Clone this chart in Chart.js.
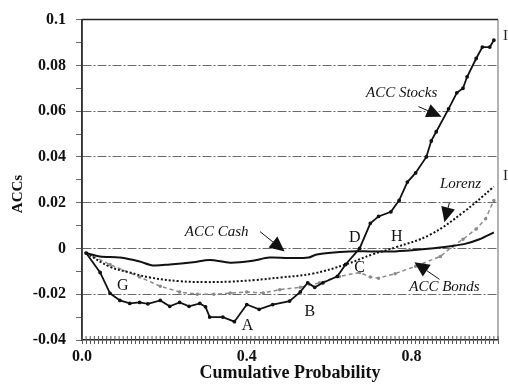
<!DOCTYPE html>
<html>
<head>
<meta charset="utf-8">
<script src="https://cdn.jsdelivr.net/npm/chart.js@4.4.0/dist/chart.umd.min.js"></script>
<style>
  html, body { margin: 0; padding: 0; background: #fff; }
  #wrap { width: 508px; height: 384px; }
</style>
</head>
<body>
<div id="wrap"><canvas id="accChart" width="508" height="384"></canvas></div>
<script>
// values (x = cumulative probability, y = ACC)
const stocksX = [0.01, 0.044, 0.068, 0.092, 0.116, 0.14, 0.16, 0.19, 0.213, 0.237, 0.26, 0.286, 0.30, 0.31, 0.342, 0.37, 0.40, 0.43, 0.463, 0.504, 0.53, 0.548, 0.565, 0.585, 0.62, 0.64, 0.674, 0.70, 0.72, 0.75, 0.77, 0.79, 0.81, 0.836, 0.848, 0.86, 0.89, 0.91, 0.925, 0.935, 0.957, 0.972, 0.99, 1.0];
const stocksY = [-0.002, -0.0105, -0.0196, -0.0227, -0.024, -0.0236, -0.0242, -0.0227, -0.0253, -0.0236, -0.0253, -0.024, -0.0255, -0.030, -0.030, -0.032, -0.0245, -0.0266, -0.0245, -0.023, -0.019, -0.015, -0.017, -0.015, -0.0122, -0.007, 0.0, 0.011, 0.014, 0.016, 0.021, 0.029, 0.033, 0.040, 0.047, 0.051, 0.061, 0.068, 0.070, 0.075, 0.083, 0.088, 0.088, 0.091];

const cashX = [0.01, 0.044, 0.092, 0.14, 0.172, 0.213, 0.27, 0.31, 0.36, 0.41, 0.455, 0.50, 0.55, 0.57, 0.65, 0.70, 0.76, 0.82, 0.89, 0.93, 0.965, 1.0];
const cashY = [-0.002, -0.0035, -0.004, -0.0057, -0.0074, -0.007, -0.006, -0.005, -0.0062, -0.0055, -0.004, -0.0042, -0.004, -0.0026, -0.0013, -0.0013, -0.0013, -0.0005, 0.0009, 0.002, 0.004, 0.007];

const lorenzX = [0.01, 0.068, 0.116, 0.165, 0.237, 0.30, 0.36, 0.42, 0.48, 0.56, 0.64, 0.705, 0.76, 0.845, 0.925, 1.0];
const lorenzY = [-0.002, -0.008, -0.0105, -0.0127, -0.0143, -0.0147, -0.0145, -0.0138, -0.0127, -0.011, -0.007, -0.0026, 0.0004, 0.006, 0.0157, 0.027];

const bondsX = [0.01, 0.068, 0.14, 0.19, 0.237, 0.28, 0.32, 0.36, 0.40, 0.44, 0.48, 0.53, 0.577, 0.625, 0.674, 0.70, 0.72, 0.76, 0.81, 0.87, 0.90, 0.925, 0.957, 0.98, 1.0];
const bondsY = [-0.002, -0.007, -0.0125, -0.0165, -0.019, -0.020, -0.020, -0.0195, -0.019, -0.0195, -0.018, -0.017, -0.015, -0.0122, -0.0105, -0.0125, -0.013, -0.011, -0.0078, -0.0035, 0.001, 0.004, 0.0085, 0.013, 0.021];

const xTickLabels = [0.0, 0.4, 0.8];
const yTickLabels = [0.1, 0.08, 0.06, 0.04, 0.02, 0, -0.02, -0.04];

// labels on the plot, in data units
const seriesNotes = [
  { text: "ACC Stocks", x: 0.776, y: 0.068, from: [0.817, 0.062], tip: [0.873, 0.0576] },
  { text: "ACC Cash", x: 0.327, y: 0.007, from: [0.432, 0.0074], tip: [0.492, -0.0013] },
  { text: "Lorenz", x: 0.919, y: 0.028, from: [0.892, 0.020], tip: [0.880, 0.0114] },
  { text: "ACC Bonds", x: 0.880, y: -0.017, from: [0.868, -0.0135], tip: [0.807, -0.006] }
];
const pointNotes = [
  { text: "A", x: 0.402, y: -0.0336 },
  { text: "B", x: 0.553, y: -0.0275 },
  { text: "C", x: 0.674, y: -0.0083 },
  { text: "D", x: 0.662, y: 0.0048 },
  { text: "H", x: 0.764, y: 0.0052 },
  { text: "G", x: 0.099, y: -0.0162 }
];

const pairs = (xs, ys) => xs.map((x, i) => ({ x: x, y: ys[i] }));
const near = (v, list) => list.some(t => Math.abs(v - t) < 1e-6);

const serif = "'Liberation Serif', 'DejaVu Serif', serif";

const decorPlugin = {
  id: "decor",
  beforeDatasetsDraw(chart) {
    const { ctx, chartArea: a, scales } = chart;
    ctx.save();
    // frame: top, right, and a solid left axis over the dashed border
    ctx.strokeStyle = "#222";
    ctx.lineWidth = 1.5;
    ctx.beginPath();
    ctx.moveTo(a.left, a.top);
    ctx.lineTo(a.right, a.top);
    ctx.stroke();
    ctx.strokeStyle = "#333";
    ctx.beginPath();
    ctx.moveTo(a.left, a.top);
    ctx.lineTo(a.left, a.bottom);
    ctx.stroke();
    ctx.strokeStyle = "#666";
    ctx.lineWidth = 1;
    ctx.beginPath();
    ctx.moveTo(a.right, a.top);
    ctx.lineTo(a.right, a.bottom);
    ctx.stroke();
    // x ticks poke up into the plot too
    ctx.strokeStyle = "#555";
    scales.x.ticks.forEach(t => {
      const px = scales.x.getPixelForValue(t.value);
      ctx.beginPath();
      ctx.moveTo(px, a.bottom - 4);
      ctx.lineTo(px, a.bottom);
      ctx.stroke();
    });
    ctx.restore();
  },
  afterDatasetsDraw(chart) {
    const { ctx, scales } = chart;
    const sx = v => scales.x.getPixelForValue(v);
    const sy = v => scales.y.getPixelForValue(v);
    ctx.save();
    ctx.fillStyle = "#111";
    ctx.strokeStyle = "#111";
    ctx.textAlign = "center";
    ctx.textBaseline = "middle";
    ctx.font = "italic 15px " + serif;
    seriesNotes.forEach(n => {
      ctx.fillText(n.text, sx(n.x), sy(n.y));
      const x1 = sx(n.from[0]), y1 = sy(n.from[1]);
      const x2 = sx(n.tip[0]), y2 = sy(n.tip[1]);
      const ang = Math.atan2(y2 - y1, x2 - x1);
      const len = 15, half = 7;
      const bx = x2 - len * Math.cos(ang), by = y2 - len * Math.sin(ang);
      ctx.lineWidth = 1;
      ctx.beginPath();
      ctx.moveTo(x1, y1);
      ctx.lineTo(bx, by);
      ctx.stroke();
      ctx.beginPath();
      ctx.moveTo(x2, y2);
      ctx.lineTo(bx + half * Math.sin(ang), by - half * Math.cos(ang));
      ctx.lineTo(bx - half * Math.sin(ang), by + half * Math.cos(ang));
      ctx.closePath();
      ctx.fill();
    });
    ctx.font = "16px " + serif;
    pointNotes.forEach(n => ctx.fillText(n.text, sx(n.x), sy(n.y)));

    // y axis title
    ctx.font = "bold 15px " + serif;
    ctx.translate(18, 194);
    ctx.rotate(-Math.PI / 2);
    ctx.fillText("ACCs", 0, 0);
    ctx.restore();

    // cut-off marks at the right edge
    ctx.save();
    ctx.fillStyle = "#222";
    ctx.font = "15px " + serif;
    ctx.textBaseline = "middle";
    ctx.fillText("I", 503, 36);
    ctx.fillText("I", 503, 176);
    ctx.restore();
  }
};

new Chart(document.getElementById("accChart"), {
  type: "line",
  data: {
    datasets: [
      {
        label: "ACC Stocks",
        data: pairs(stocksX, stocksY),
        borderColor: "#111",
        backgroundColor: "#111",
        borderWidth: 1.8,
        pointRadius: 1,
        tension: 0
      },
      {
        label: "ACC Cash",
        data: pairs(cashX, cashY),
        borderColor: "#111",
        borderWidth: 2,
        pointRadius: 0,
        tension: 0.3
      },
      {
        label: "Lorenz",
        data: pairs(lorenzX, lorenzY),
        borderColor: "#111",
        borderWidth: 2,
        borderDash: [2, 2],
        pointRadius: 0,
        tension: 0.4
      },
      {
        label: "ACC Bonds",
        data: pairs(bondsX, bondsY),
        borderColor: "#8a8a8a",
        backgroundColor: "#8a8a8a",
        borderWidth: 1.5,
        borderDash: [4, 3],
        pointRadius: 1,
        tension: 0
      }
    ]
  },
  options: {
    responsive: false,
    animation: false,
    layout: { padding: { top: 19, right: 10, left: 0, bottom: 0 } },
    plugins: {
      legend: { display: false },
      tooltip: { enabled: false }
    },
    scales: {
      x: {
        type: "linear",
        min: 0,
        max: 1.01,
        afterFit: s => { s.height = 44; },
        ticks: {
          stepSize: 0.01,
          maxTicksLimit: 200,
          autoSkip: false,
          maxRotation: 0,
          padding: 3,
          color: "#111",
          font: { family: serif, size: 16, weight: "bold" },
          callback: v => near(v, xTickLabels) ? v.toFixed(1) : ""
        },
        grid: {
          drawOnChartArea: false,
          tickLength: 4,
          tickColor: "#555"
        },
        border: { color: "#222", width: 1.5 },
        title: {
          display: true,
          text: "Cumulative Probability",
          color: "#111",
          font: { family: serif, size: 18, weight: "bold" },
          padding: { top: 0, bottom: 0 }
        }
      },
      y: {
        min: -0.04,
        max: 0.1,
        afterFit: s => { s.width = 82; },
        ticks: {
          stepSize: 0.01,
          autoSkip: false,
          padding: 10,
          color: "#111",
          font: { family: serif, size: 16, weight: "bold" },
          callback: v => near(v, yTickLabels) ? String(Math.round(v * 100) / 100) : ""
        },
        grid: {
          tickLength: 6,
          tickColor: "#666",
          color: ctx => {
            const v = ctx.tick ? ctx.tick.value : 0;
            return (near(v, yTickLabels) && v > -0.039 && v < 0.099) ? "#6a6a6a" : "rgba(0,0,0,0)";
          }
        },
        border: { color: "#333", width: 1.5, dash: [9, 2, 2, 2] }
      }
    }
  },
  plugins: [decorPlugin]
});
</script>
</body>
</html>
